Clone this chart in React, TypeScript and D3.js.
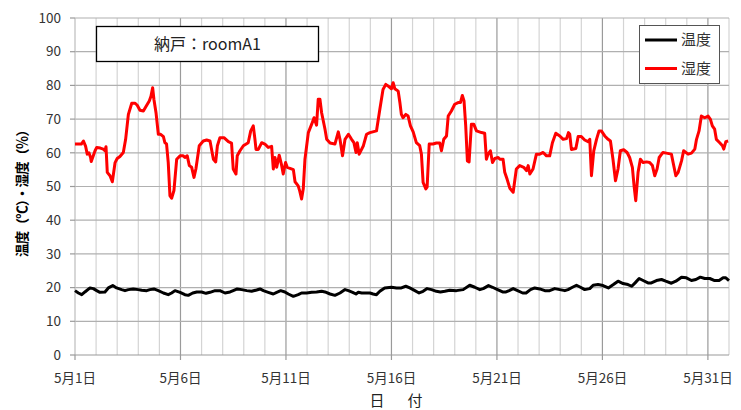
import React from "react";
import * as d3 from "d3";

const humidity: [number, number][] = [
  [0,62.6],[0.3,62.6],[0.4,63.5],[0.5,62],[0.58,59.6],[0.66,60],[0.74,58.6],[0.77,57.4],[0.95,60.6],[1.03,61.6],[1.2,61.4],[1.34,61.1],[1.42,60.6],[1.47,61.8],[1.53,54.2],[1.66,53.2],[1.77,51.4],[1.9,57.1],[2.0,58.3],[2.13,58.9],[2.29,60.1],[2.4,64],[2.53,71.4],[2.69,74.7],[2.85,74.7],[2.95,74.1],[3.08,72.6],[3.24,72.4],[3.4,74.1],[3.52,75.4],[3.6,76.8],[3.68,79.3],[3.74,75.9],[3.84,71.9],[3.95,65.5],[4.06,65.5],[4.19,64.8],[4.26,63],[4.34,62.6],[4.42,57.1],[4.5,47.3],[4.58,46.5],[4.69,48.8],[4.82,58.1],[4.98,59.1],[5.13,59.1],[5.21,58.6],[5.32,59.1],[5.42,56.2],[5.53,55.7],[5.64,52.7],[5.73,55.2],[5.89,62.1],[6.08,63.5],[6.24,63.8],[6.4,63.5],[6.56,58.1],[6.67,57.3],[6.75,62.1],[6.87,64.5],[7.06,64.5],[7.27,63.3],[7.42,62.9],[7.5,55.2],[7.63,53.7],[7.69,59.1],[7.82,60.6],[7.98,62.1],[8.21,63],[8.33,66.5],[8.45,68],[8.53,64],[8.58,61],[8.69,61],[8.85,63],[9.0,62.6],[9.16,61.6],[9.32,61.9],[9.4,55.2],[9.48,58.6],[9.56,55.7],[9.68,59.3],[9.79,56.4],[9.87,53.7],[9.98,57.1],[10.06,55.7],[10.19,55.4],[10.35,55],[10.43,51.4],[10.58,50.2],[10.66,48.5],[10.74,46.3],[10.82,49.3],[10.9,58.1],[11.06,66],[11.22,68.5],[11.33,70.4],[11.45,68.2],[11.53,75.9],[11.61,75.9],[11.69,71.9],[11.85,67],[11.93,64],[12.09,62.9],[12.32,62.6],[12.48,66.2],[12.56,64],[12.68,59.1],[12.8,64],[12.96,65.5],[13.11,64],[13.22,63],[13.32,60.1],[13.38,63],[13.47,59.6],[13.67,62.1],[13.82,65.5],[13.98,66],
  [14.29,66.5],[14.45,72.9],[14.6,78.8],[14.73,80.3],[14.89,79.6],[15.0,79],[15.08,80.8],[15.16,79],[15.32,78.3],[15.4,74.9],[15.47,71.4],[15.55,70.4],[15.68,71.4],[15.79,70.9],[15.9,68],[16.03,66.2],[16.18,63],[16.34,62.1],[16.42,59.6],[16.5,51.2],[16.63,49.3],[16.69,49.8],[16.79,62.6],[16.97,62.6],[17.13,62.9],[17.29,62.9],[17.37,60.6],[17.48,64],[17.61,65],[17.69,70.9],[17.84,72.4],[18.0,74.4],[18.16,74.9],[18.27,74.9],[18.36,77],[18.44,75.4],[18.52,68],[18.6,57.6],[18.68,57.3],[18.79,68.5],[18.9,68.5],[19.03,66.5],[19.27,66],[19.42,65.8],[19.5,58.1],[19.58,59.6],[19.69,60.6],[19.79,57.1],[19.9,58.3],[20.06,58.6],[20.14,58.1],[20.29,58.1],[20.37,54.2],[20.48,52.2],[20.61,49.5],[20.77,48.3],[20.92,55.2],[21.08,56.2],[21.27,55.7],[21.4,54.7],[21.48,56.2],[21.56,53.7],[21.71,55.2],[21.87,59.6],[22.03,59.6],[22.19,60.1],[22.35,59.1],[22.5,59.1],[22.63,63],[22.79,65.8],[22.98,65],[23.14,64],[23.3,64.2],[23.39,66],[23.45,65.5],[23.53,61],[23.74,61.3],[23.85,64.8],[24.0,64.8],[24.16,63.8],[24.32,63.3],[24.4,64],[24.48,53.2],[24.59,60.6],[24.72,64],[24.84,66.5],[24.95,66.5],[25.11,65],[25.27,64],[25.38,63.5],[25.5,58.1],[25.62,51.7],[25.74,55.2],[25.85,60.6],[26.01,60.9],[26.17,60.1],[26.29,58.6],[26.42,55.7],[26.5,50.2],[26.58,45.8],[26.69,54.2],[26.8,58.1],[26.93,57.1],[27.09,57.3],[27.24,57.1],[27.37,56.2],[27.48,53.2],[27.59,55.2],[27.69,58.6],[27.87,60.1],[28.03,59.9],[28.27,59.6],[28.35,57.1],[28.48,53.2],[28.59,54.2],[28.75,57.6],[28.85,60.6],[29.06,59.6],[29.22,59.9],[29.38,61.1],[29.46,64],[29.58,66.5],[29.69,70.9],[29.85,70.4],[30.01,70.9],[30.12,69.9],[30.21,68],[30.32,67],[30.4,64],[30.56,63],[30.69,62.1],[30.75,61.1],[30.85,63.3],[30.96,63.5],
];

const temperature: [number, number][] = [
  [0,19.1],[0.16,18.4],[0.32,17.9],[0.47,18.7],[0.71,19.9],[0.87,19.7],[1.03,19.1],[1.18,18.6],[1.42,18.7],[1.58,19.9],[1.79,20.6],[1.97,19.9],[2.21,19.4],[2.37,19.1],[2.53,19.4],[2.76,19.6],[3.0,19.4],[3.16,19.2],[3.4,19.1],[3.55,19.4],[3.74,19.6],[3.95,19.1],[4.19,18.4],[4.42,17.9],[4.58,18.4],[4.74,19.1],[4.98,18.6],[5.21,17.9],[5.37,17.7],[5.58,18.4],[5.77,18.7],[6.0,18.7],[6.21,18.3],[6.4,18.6],[6.64,19.1],[6.87,19.1],[7.11,18.4],[7.35,18.7],[7.5,19.1],[7.69,19.6],[7.9,19.4],[8.14,19.1],[8.37,18.9],[8.61,19.3],[8.77,19.6],[8.93,19.1],[9.16,18.6],[9.4,18.1],[9.56,18.6],[9.75,19.1],[9.95,18.7],[10.11,18.1],[10.35,17.4],[10.58,17.9],[10.74,18.4],[10.98,18.4],[11.22,18.6],[11.45,18.7],[11.69,18.9],[11.85,18.7],[12.09,18.1],[12.32,17.7],[12.56,18.4],[12.8,19.4],[12.96,19.1],[13.16,18.6],[13.32,18.1],[13.43,18.6],[13.59,18.4],[13.98,18.4],
  [14.13,18.1],[14.29,17.9],[14.45,18.9],[14.68,19.9],[15.0,20.1],[15.24,19.9],[15.47,19.9],[15.68,20.4],[15.87,19.9],[16.11,19.1],[16.31,18.4],[16.5,18.9],[16.69,19.7],[16.9,19.4],[17.13,18.9],[17.32,18.7],[17.53,18.9],[17.76,19.2],[18.08,19.1],[18.4,19.4],[18.71,20.7],[18.95,20.1],[19.19,19.4],[19.35,19.7],[19.6,20.6],[19.79,20.1],[20.03,19.4],[20.27,18.7],[20.43,18.7],[20.58,19.1],[20.77,19.7],[20.98,19.1],[21.22,18.4],[21.38,18.4],[21.59,19.4],[21.79,19.9],[22.03,19.6],[22.27,19.1],[22.5,19.1],[22.74,19.7],[22.98,19.4],[23.22,19.1],[23.37,19.4],[23.58,20.1],[23.77,20.7],[23.96,20.1],[24.16,19.4],[24.4,19.7],[24.56,20.7],[24.79,20.9],[25.03,20.6],[25.28,19.9],[25.52,20.9],[25.74,21.9],[25.98,21.2],[26.21,20.9],[26.39,20.4],[26.55,21.4],[26.74,22.7],[26.93,22.1],[27.16,21.4],[27.32,21.4],[27.56,22.1],[27.8,22.4],[28.0,21.9],[28.27,21.3],[28.48,21.9],[28.75,23.1],[28.98,22.9],[29.22,22.1],[29.43,22.4],[29.64,23.1],[29.85,22.7],[30.09,22.7],[30.32,22.1],[30.53,22.1],[30.72,22.9],[30.85,22.9],[31.0,22.1],
];

const xTickDays = [0, 5, 10, 15, 20, 25, 30];
const xTickLabels = ["5月1日", "5月6日", "5月11日", "5月16日", "5月21日", "5月26日", "5月31日"];
const yTicks = [0, 10, 20, 30, 40, 50, 60, 70, 80, 90, 100];
const seriesNames = ["温度", "湿度"];
const seriesColors = ["#000000", "#ff0000"];
const titleText = "納戸：roomA1";
const yTitle = "温度（℃）・湿度（％）";
const xTitle = "日　付";

const W = 741, H = 410;
const FONT = "'Noto Sans CJK JP', 'Noto Sans', sans-serif";

export default function App() {
  const x = d3.scaleLinear().domain([0, 31]).range([75, 729]);
  const y = d3.scaleLinear().domain([0, 100]).range([355, 18]);
  const line = d3.line<[number, number]>().x(d => x(d[0])).y(d => y(d[1]));
  const days = d3.range(1, 32);

  return (
    <svg width={W} height={H} style={{ position: "absolute", left: 0, top: 0, display: "block", background: "#fff" }} fontFamily={FONT}>
      <rect x={0} y={0} width={W} height={H} fill="#fff" />
      {days.map(d => (
        <line key={"v" + d} x1={x(d)} x2={x(d)} y1={y(0)} y2={y(100)}
          stroke={d % 5 === 0 && d !== 31 ? "#9a9a9a" : "#d4d4d4"} strokeWidth={1.2} />
      ))}
      {yTicks.filter(t => t > 0).map(t => (
        <line key={"h" + t} x1={x(0)} x2={x(31)} y1={y(t)} y2={y(t)} stroke="#b0b0b0" strokeWidth={1.2} />
      ))}
      <line x1={x(0)} x2={x(0)} y1={y(0)} y2={y(100)} stroke="#bdbdbd" strokeWidth={1.2} />
      <line x1={x(0)} x2={x(31)} y1={y(0)} y2={y(0)} stroke="#9a9a9a" strokeWidth={1.2} />
      {yTicks.map(t => (
        <g key={"yt" + t}>
          <line x1={x(0) - 5} x2={x(0)} y1={y(t)} y2={y(t)} stroke="#9a9a9a" strokeWidth={1.2} />
          <text x={61} y={y(t)} dy="0.35em" textAnchor="end" fontSize={13.5} fill="#333">{t}</text>
        </g>
      ))}
      {xTickDays.map((d, i) => (
        <g key={"xt" + d}>
          <line x1={x(d)} x2={x(d)} y1={y(0)} y2={y(0) + 5} stroke="#9a9a9a" strokeWidth={1.2} />
          <text x={x(d)} y={383} textAnchor="middle" fontSize={13.5} fill="#333">{xTickLabels[i]}</text>
        </g>
      ))}
      <path d={line(temperature) || ""} fill="none" stroke={seriesColors[0]} strokeWidth={3} strokeLinejoin="round" />
      <path d={line(humidity) || ""} fill="none" stroke={seriesColors[1]} strokeWidth={3} strokeLinejoin="round" />
      <rect x={96.5} y={26.5} width={222} height={35} fill="#fff" stroke="#000" strokeWidth={1.3} />
      <text x={207.5} y={44} dy="0.36em" textAnchor="middle" fontSize={16} fill="#222">{titleText}</text>
      <rect x={639.5} y={25.5} width={80} height={58} fill="#fff" stroke="#555" strokeWidth={1} />
      {seriesNames.map((n, i) => (
        <g key={n}>
          <line x1={645} x2={677} y1={40 + i * 28.5} y2={40 + i * 28.5} stroke={seriesColors[i]} strokeWidth={3} />
          <text x={681} y={40 + i * 28.5} dy="0.36em" fontSize={15} fill="#333">{n}</text>
        </g>
      ))}
      <text transform={`translate(27,${190}) rotate(-90)`} textAnchor="middle" fontSize={13.5} fontWeight="bold" fill="#000"
        textLength={134} lengthAdjust="spacing">{yTitle}</text>
      <text x={398} y={406} textAnchor="middle" fontSize={15} fill="#222" letterSpacing={4}>{xTitle}</text>
    </svg>
  );
}
